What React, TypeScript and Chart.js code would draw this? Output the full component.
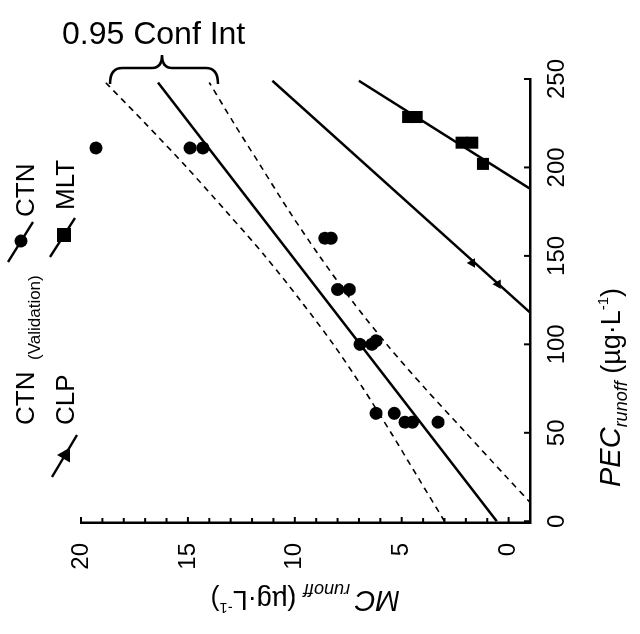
import React, { useEffect, useRef } from 'react';
import { Chart, registerables } from 'chart.js';

Chart.register(...registerables);

// ---- data (PEC = x, MC = y in the unrotated chart) ----
const PEC_TICKS = [0, 50, 100, 150, 200, 250];
const MC_TICKS = [0, 5, 10, 15, 20];
const MC_MINOR = [0, 1, 2, 3, 4, 5, 6, 7, 8, 9, 10, 11, 12, 13, 14, 15, 16, 17, 18, 19, 20];

const CTN_PEC = [211, 211, 211, 160, 160, 131, 131, 100, 100, 102, 61, 61, 56, 56, 56];
const CTN_MC = [19.3, 14.9, 14.3, 8.6, 8.3, 8.0, 7.45, 6.95, 6.4, 6.2, 6.2, 5.35, 4.85, 4.5, 3.3];

const MLT_PEC = [228.5, 228.5, 214, 214, 202];
const MLT_MC = [4.7, 4.3, 2.2, 1.7, 1.2];

const CLP_PEC = [146, 134];
const CLP_MC = [1.7, 0.5];

const CTN_LINE_PEC = [0, 248];
const CTN_LINE_MC = [0.56, 16.4];
const CLP_LINE_PEC = [118, 249];
const CLP_LINE_MC = [-1, 11.05];
const MLT_LINE_PEC = [188, 249];
const MLT_LINE_MC = [-1, 7.0];

const CI_UP_PEC = [0, 25, 50, 75, 100, 125, 150, 175, 200, 225, 248];
const CI_UP_MC = [3.0, 4.25, 5.5, 6.8, 8.2, 9.75, 11.4, 13.2, 15.05, 17.0, 18.85];
const CI_LO_PEC = [10, 25, 50, 75, 100, 125, 150, 175, 200, 225, 248];
const CI_LO_MC = [-1.05, 0.1, 2.0, 3.9, 5.7, 7.35, 8.85, 10.25, 11.55, 12.85, 14.0];

const LEGEND_TEXT = ['CTN', '(Validation)', 'CTN', 'CLP', 'MLT'];
const ANNOT_TEXT = '0.95 Conf Int';

const W = 634; // unrotated canvas width  (becomes page height)
const H = 640; // unrotated canvas height (becomes page width)
const FONT = '"Liberation Sans", Arial, Helvetica, sans-serif';

const pts = (xs: number[], ys: number[]) => xs.map((x, i) => ({ x, y: ys[i] }));

type Seg = { text: string; font: string; dy?: number };
function drawRich(ctx: CanvasRenderingContext2D, x: number, y: number, segs: Seg[]) {
  let cx = x;
  for (const s of segs) {
    ctx.font = s.font;
    ctx.fillText(s.text, cx, y + (s.dy || 0));
    cx += ctx.measureText(s.text).width;
  }
}

const decor = {
  id: 'decor',
  afterDraw(chart: any) {
    const ctx: CanvasRenderingContext2D = chart.ctx;
    const xs = chart.scales.x;
    const ys = chart.scales.y;
    const a = chart.chartArea;
    ctx.save();
    ctx.strokeStyle = '#000';
    ctx.fillStyle = '#000';
    ctx.lineWidth = 2;
    ctx.lineCap = 'butt';
    // inward ticks
    PEC_TICKS.forEach((v) => {
      const px = xs.getPixelForValue(v);
      ctx.beginPath();
      ctx.moveTo(px, a.bottom);
      ctx.lineTo(px, a.bottom - 6);
      ctx.stroke();
    });
    MC_MINOR.forEach((v) => {
      const py = ys.getPixelForValue(v);
      ctx.beginPath();
      ctx.moveTo(a.left, py);
      ctx.lineTo(a.left + (v % 5 === 0 ? 6 : 5), py);
      ctx.stroke();
    });

    // legend
    ctx.textBaseline = 'alphabetic';
    ctx.textAlign = 'left';
    ctx.lineWidth = 2.5;
    const seg = (x1: number, y1: number, x2: number, y2: number) => {
      ctx.beginPath();
      ctx.moveTo(x1, y1);
      ctx.lineTo(x2, y2);
      ctx.stroke();
    };
    seg(372, 8, 412, 33);
    ctx.beginPath();
    ctx.arc(393, 21, 6.5, 0, Math.PI * 2);
    ctx.fill();
    seg(157, 52, 199, 77);
    ctx.beginPath();
    ctx.moveTo(179, 57);
    ctx.lineTo(186.5, 70);
    ctx.lineTo(171.5, 70);
    ctx.closePath();
    ctx.fill();
    seg(377, 50, 416, 75);
    ctx.fillRect(392, 57, 14, 14);

    ctx.font = `26px ${FONT}`;
    ctx.fillText(LEGEND_TEXT[0], 209, 34);
    ctx.font = `17px ${FONT}`;
    ctx.fillText(LEGEND_TEXT[1], 274, 40);
    ctx.font = `26px ${FONT}`;
    ctx.fillText(LEGEND_TEXT[2], 417, 34);
    ctx.fillText(LEGEND_TEXT[3], 209, 74);
    ctx.fillText(LEGEND_TEXT[4], 424, 74);

    // x (PEC) title
    drawRich(ctx, 147, 620, [
      { text: 'PEC', font: `italic 29px ${FONT}` },
      { text: 'runoff', font: `italic 18px ${FONT}`, dy: 7 },
      { text: ' (\u00b5g\u00b7L', font: `27px ${FONT}` },
      { text: '-1', font: `15px ${FONT}`, dy: -12 },
      { text: ')', font: `27px ${FONT}` },
    ]);

    // y (MC) title, rotated
    ctx.save();
    ctx.translate(43, 400);
    ctx.rotate(-Math.PI / 2);
    drawRich(ctx, 0, 0, [
      { text: 'MC', font: `italic 29px ${FONT}` },
      { text: ' runoff', font: `italic 18px ${FONT}`, dy: 7 },
      { text: ' (\u00b5g\u00b7L', font: `27px ${FONT}` },
      { text: '-1', font: `15px ${FONT}`, dy: -12 },
      { text: ')', font: `27px ${FONT}` },
    ]);
    ctx.restore();

    // annotation drawn in page (rotated) coordinates
    ctx.save();
    ctx.transform(0, 1, -1, 0, W, 0);
    ctx.font = `32px ${FONT}`;
    ctx.fillText(ANNOT_TEXT, 62, 44);
    ctx.lineWidth = 2.5;
    ctx.beginPath();
    ctx.moveTo(110, 84);
    ctx.quadraticCurveTo(110, 68, 122, 68);
    ctx.lineTo(152, 68);
    ctx.quadraticCurveTo(162, 68, 162, 55);
    ctx.quadraticCurveTo(162, 68, 172, 68);
    ctx.lineTo(206, 68);
    ctx.quadraticCurveTo(218, 68, 218, 84);
    ctx.stroke();
    ctx.restore();

    ctx.restore();
  },
};

export default function App() {
  const ref = useRef<HTMLCanvasElement | null>(null);
  useEffect(() => {
    if (!ref.current) return;
    const solid = { borderColor: '#000', borderWidth: 2.5, pointRadius: 0, showLine: true, fill: false };
    const dashed = { ...solid, borderWidth: 1.6, borderDash: [6, 5] };
    const chart = new Chart(ref.current, {
      type: 'scatter',
      data: {
        datasets: [
          { data: pts(CTN_PEC, CTN_MC), pointStyle: 'circle', pointRadius: 6.5, backgroundColor: '#000', borderColor: '#000', borderWidth: 0 },
          { data: pts(MLT_PEC, MLT_MC), pointStyle: 'rect', pointRadius: 8.5, backgroundColor: '#000', borderColor: '#000', borderWidth: 0 },
          { data: pts(CLP_PEC, CLP_MC), pointStyle: 'triangle', pointRadius: 5.5, backgroundColor: '#000', borderColor: '#000', borderWidth: 0 },
          { data: pts(CTN_LINE_PEC, CTN_LINE_MC), ...solid },
          { data: pts(CLP_LINE_PEC, CLP_LINE_MC), ...solid },
          { data: pts(MLT_LINE_PEC, MLT_LINE_MC), ...solid },
          { data: pts(CI_UP_PEC, CI_UP_MC), ...dashed, tension: 0.3 },
          { data: pts(CI_LO_PEC, CI_LO_MC), ...dashed, tension: 0.3 },
        ] as any,
      },
      options: {
        animation: false,
        responsive: false,
        devicePixelRatio: 1,
        layout: { padding: { left: 0, right: 79, top: 81, bottom: 0 } },
        plugins: { legend: { display: false }, tooltip: { enabled: false }, title: { display: false } },
        scales: {
          x: {
            type: 'linear',
            min: -1,
            max: 250,
            afterBuildTicks: (s: any) => { s.ticks = PEC_TICKS.map((v) => ({ value: v })); },
            afterFit: (s: any) => { s.height = 110; },
            grid: { display: false, drawTicks: false },
            border: { display: true, color: '#000', width: 2.5 },
            ticks: { color: '#000', padding: 13, maxRotation: 0, font: { family: FONT, size: 24 } },
          },
          y: {
            type: 'linear',
            min: -1,
            max: 20,
            afterBuildTicks: (s: any) => { s.ticks = MC_TICKS.map((v) => ({ value: v })); },
            afterFit: (s: any) => { s.width = 111; },
            grid: { display: false, drawTicks: false },
            border: { display: true, color: '#000', width: 2.5 },
            ticks: { color: '#000', padding: 20, font: { family: FONT, size: 24 } },
          },
        },
      } as any,
      plugins: [decor],
    });
    return () => chart.destroy();
  }, []);

  return (
    <div style={{ position: 'fixed', left: 0, top: 0, width: 640, height: 634, overflow: 'hidden', background: '#fff' }}>
      <div
        style={{
          position: 'absolute',
          left: 0,
          top: 0,
          width: W,
          height: H,
          transformOrigin: '0 0',
          transform: `translateY(${W}px) rotate(-90deg)`,
        }}
      >
        <canvas ref={ref} width={W} height={H} style={{ width: W, height: H, display: 'block' }} />
      </div>
    </div>
  );
}
